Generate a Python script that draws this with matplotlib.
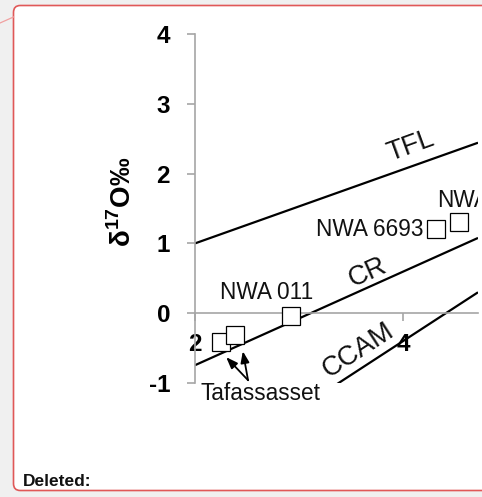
import matplotlib
matplotlib.use("Agg")
import matplotlib.pyplot as plt
from matplotlib.patches import FancyBboxPatch
from matplotlib.lines import Line2D
import numpy as np

plt.rcParams['font.family'] = ['Liberation Sans', 'DejaVu Sans']
plt.rcParams['mathtext.fontset'] = 'custom'
plt.rcParams['mathtext.rm'] = 'Liberation Sans'
plt.rcParams['mathtext.bf'] = 'Liberation Sans:bold'

# Fractionation lines: delta17O = slope * delta18O + intercept
line_names = ['TFL', 'CR', 'CCAM']
line_slopes = [0.53, 0.67, 0.97]
line_intercepts = [-0.06, -2.085, -4.28]

# Meteorite samples
sample_names = ['Tafassasset', 'Tafassasset', 'NWA 011', 'NWA 6693', 'NWA']
d18O = [2.25, 2.38, 2.92, 4.32, 4.54]
d17O = [-0.41, -0.315, -0.04, 1.20, 1.31]

x_ticks = [2, 4]
y_ticks = [-1, 0, 1, 2, 3, 4]

W, H = 482, 497
fig = plt.figure(figsize=(W / 100, H / 100), dpi=100)
fig.patch.set_facecolor('#f0f0f0')

# comment balloon frame
balloon = FancyBboxPatch((13.5 / W, (H - 490.5) / H), (W + 20 - 13.5) / W, (490.5 - 5.5) / H,
                         boxstyle='round,pad=0,rounding_size=0.014', transform=fig.transFigure,
                         facecolor='white', edgecolor='#e05858', linewidth=1.2, zorder=-5)
fig.add_artist(balloon)
fig.add_artist(Line2D([0, 13.5 / W], [(H - 23) / H, (H - 17) / H], transform=fig.transFigure,
                      color='#f0a0a0', lw=0.9, zorder=-4))
fig.text(23 / W, (H - 481) / H, 'Deleted:', fontsize=12.5, fontweight='bold',
         va='center', ha='left', color='#111111')

ax_left, ax_right = 195, 478
ax_top, ax_bot = 34, 383
ax = fig.add_axes([ax_left / W, (H - ax_bot) / H, (ax_right - ax_left) / W, (ax_bot - ax_top) / H])
ax.set_facecolor('none')
ax.set_zorder(5)

x_max = 2 + (ax_right - ax_left) / 104.0
ax.set_xlim(2, x_max)
ax.set_ylim(-1, 4)

grey = '#a6a6a6'
for s in ['top', 'right']:
    ax.spines[s].set_visible(False)
ax.spines['left'].set_color(grey)
ax.spines['bottom'].set_color(grey)
ax.spines['bottom'].set_position(('data', 0))
ax.spines['left'].set_linewidth(1.2)
ax.spines['bottom'].set_linewidth(1.2)

ax.set_xticks(x_ticks)
ax.set_yticks(y_ticks)
ax.set_xticklabels([str(v) for v in x_ticks], fontsize=17.5, fontweight='bold')
ax.set_yticklabels([str(v) for v in y_ticks], fontsize=17.5, fontweight='bold')
ax.tick_params(axis='y', direction='out', length=6, width=1.2, color=grey, pad=12)
ax.tick_params(axis='x', direction='out', length=6, width=1.2, color=grey, pad=8)

ax.text(-0.255, 0.52, r'δ$^{\mathbf{17}}$O‰', transform=ax.transAxes, rotation=90,
        fontsize=20, fontweight='bold', ha='center', va='center')

# fractionation lines
xs = np.array([2, x_max])
for slope, icpt in zip(line_slopes, line_intercepts):
    ax.plot(xs, slope * xs + icpt, color='black', lw=1.6, solid_capstyle='butt')

# samples
ax.plot(d18O, d17O, linestyle='none', marker='s', markersize=13.5, markerfacecolor='white',
        markeredgecolor='black', markeredgewidth=0.9, zorder=5)

lbl = dict(fontsize=16.3, color='#111111')
ax.text(2.69, 0.29, sample_names[2], ha='center', va='center', **lbl)
ax.text(4.20, 1.20, sample_names[3], ha='right', va='center', **lbl)
ax.text(4.33, 1.62, sample_names[4], ha='left', va='center', clip_on=True, **lbl)
ax.text(2.625, -1.15, sample_names[0], ha='center', va='center', clip_on=False, **lbl)

# arrows to the two Tafassasset analyses
for hx, hy in [(2.30, -0.63), (2.46, -0.545)]:
    ax.annotate('', xy=(hx, hy), xytext=(2.51, -0.96), annotation_clip=False,
                arrowprops=dict(arrowstyle='-|>,head_length=0.85,head_width=0.32',
                                color='black', lw=1.3, mutation_scale=8,
                                shrinkA=0, shrinkB=0))

# line labels
big = dict(fontsize=19.5, color='#111111')
ax.text(4.07, 2.40, line_names[0], rotation=20, rotation_mode='anchor',
        ha='center', va='center', **big)
ax.text(3.66, 0.58, line_names[1], rotation=24, rotation_mode='anchor',
        ha='center', va='center', **big)
ax.text(3.57, -0.53, line_names[2], rotation=33, rotation_mode='anchor',
        ha='center', va='center', **big)

fig.savefig('out.png', dpi=100, facecolor=fig.get_facecolor())
